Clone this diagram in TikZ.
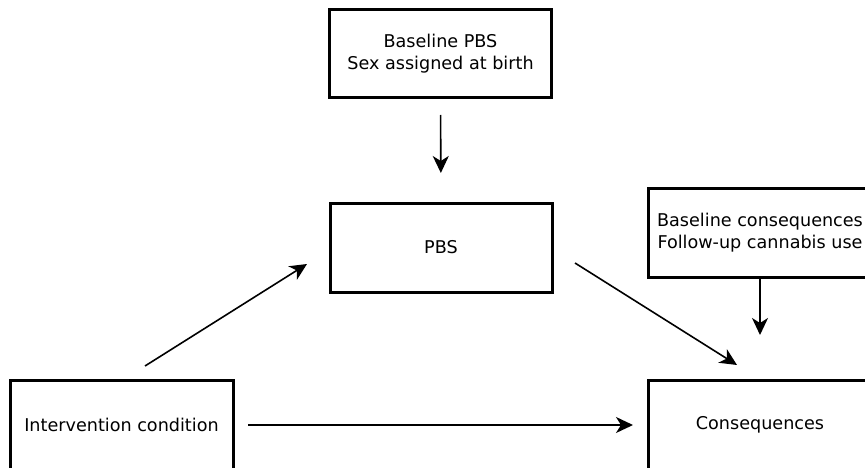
\documentclass[tikz,border=0pt]{standalone}
\usepackage{fontspec}
\setmainfont{DejaVu Sans}
\usetikzlibrary{arrows.meta}
\begin{document}
\begin{tikzpicture}[x=1pt,y=-1pt,
  box/.style={draw, line width=3pt, rectangle, inner sep=0pt, outer sep=0pt,
    minimum width=222pt, minimum height=88pt, align=center,
    font=\fontsize{17.6}{22}\selectfont},
  conn/.style={line width=1.6pt, -{Stealth[length=17pt,width=16pt,inset=5pt]}}]
\useasboundingbox (0,0) rectangle (865,468);
\clip (0,0) rectangle (865,468);
\fill[white] (0,0) rectangle (865,468);
\node[box] (top) at (440.5,54) {Baseline PBS\\Sex assigned at birth};
\node[box, minimum height=89pt] (pbs) at (441,247.5) {PBS};
\node[box, minimum width=224pt, minimum height=89pt] (bc) at (760,232.5) {Baseline consequences\\Follow-up cannabis use};
\node[box, minimum width=224pt, minimum height=90pt] (cons) at (760,425) {Consequences};
\node[box, minimum width=223pt, minimum height=90pt] (interv) at (121.5,425) {Intervention condition};
\coordinate (d1s) at (145,366);
\coordinate (d1e) at (307,264);
\coordinate (d2s) at (575,263);
\coordinate (d2e) at (737,365);
\draw[conn, shorten <=17pt, shorten >=30pt] (top.south) -- (pbs.north);
\draw[conn, shorten >=45pt] (bc.south) -- (cons.north);
\draw[conn, shorten <=15pt, shorten >=15pt] (interv.east) -- (cons.west);
\draw[conn] (d1s) -- (d1e);
\draw[conn] (d2s) -- (d2e);
\end{tikzpicture}
\end{document}
